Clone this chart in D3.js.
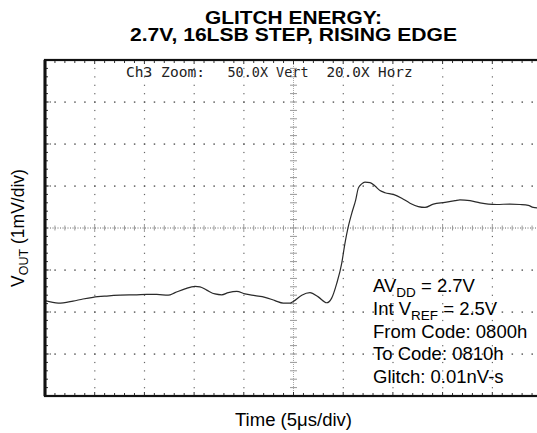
<!DOCTYPE html>
<html>
<head>
<meta charset="utf-8">
<script src="https://cdn.jsdelivr.net/npm/d3@7"></script>
<style>
  html, body { margin: 0; padding: 0; background: #fff; }
  svg { display: block; }
</style>
</head>
<body>
<svg id="chart" width="537" height="433"></svg>
<script>
// Scope capture: time in microseconds (5 µs/div), output in mV (1 mV/div, centred)
const timeUs = [
  0, 1.34, 2.82, 3.82, 4.83, 6.21, 7.55, 9.23, 10.23, 11.24, 12.40, 13.08, 14.08,
  15.09, 15.59, 16.27, 17.10, 17.78, 18.44, 19.29, 20.12, 21.13, 22.13, 23.14,
  23.97, 24.65, 24.98, 25.83, 26.66, 27.49, 28.34, 28.84, 29.35, 29.85, 30.18,
  30.51, 30.86, 31.26, 31.52, 31.86, 32.19, 32.70, 33.20, 33.70, 34.21, 35.04,
  35.89, 36.72, 37.56, 38.23, 39.07, 40.24, 41.25, 41.75, 42.76, 43.76, 44.60,
  45.44, 46.78, 47.79, 48.62, 49.12, 49.60
];
const voutMv = [
  -1.73, -1.79, -1.74, -1.69, -1.65, -1.62, -1.60, -1.59, -1.58, -1.58, -1.60, -1.54, -1.45,
  -1.39, -1.40, -1.48, -1.57, -1.59, -1.54, -1.51, -1.57, -1.61, -1.65, -1.73,
  -1.79, -1.79, -1.75, -1.60, -1.54, -1.64, -1.78, -1.67, -1.32, -0.84, -0.36,
  0.03, 0.35, 0.67, 0.95, 1.05, 1.09, 1.08, 1.00, 0.89, 0.84, 0.80,
  0.71, 0.59, 0.51, 0.49, 0.57, 0.61, 0.65, 0.67, 0.65, 0.60, 0.57,
  0.56, 0.57, 0.56, 0.54, 0.49, 0.48
];

const titleLines = ["GLITCH ENERGY:", "2.7V, 16LSB STEP, RISING EDGE"];
const scopeHeader = ["Ch3 Zoom:", "50.0X Vert", "20.0X Horz"];
const xLabel = "Time (5\u03bcs/div)";

// Divisions of the graticule
const timeDivs = d3.range(0, 51, 5);
const voltDivs = d3.range(-4, 5, 1);

const svg = d3.select("#chart");
svg.append("rect").attr("width", 537).attr("height", 433).attr("fill", "#fff");

const plotLeft = 45, plotTop = 60, divW = 49.7, divH = 42;
const x = d3.scaleLinear().domain([0, 50]).range([plotLeft, plotLeft + 10 * divW]);
const y = d3.scaleLinear().domain([-4, 4]).range([plotTop + 8 * divH, plotTop]);
const [x0, x1] = x.range();
const [y1, y0] = y.range();

const sans = "'Liberation Sans', Arial, Helvetica, sans-serif";

// Title (wide bold lettering)
const titleW = [177, 327];
svg.append("g").selectAll("text").data(titleLines).join("text")
  .attr("x", (d, i) => x(25) - titleW[i] / 2).attr("y", (d, i) => 24 + i * 16.5)
  .attr("textLength", (d, i) => titleW[i]).attr("lengthAdjust", "spacingAndGlyphs")
  .attr("font-family", sans).attr("font-weight", "bold").attr("font-size", 17.5)
  .attr("fill", "#000")
  .text(d => d);

const grid = svg.append("g");

// Dotted graticule lines (skip the centre lines and the frame)
const minorT = d3.range(0, 50.001, 1);
const minorV = d3.range(-4, 4.001, 0.2);
timeDivs.filter(t => t !== 0 && t !== 25 && t !== 50).forEach(t => {
  grid.append("g").selectAll("rect").data(minorV.filter(v => v > -3.99 && v < 3.99)).join("rect")
    .attr("x", x(t) - 0.5).attr("y", v => y(v) - 0.5).attr("width", 1.2).attr("height", 1.2)
    .attr("fill", "#666");
});
voltDivs.filter(v => v !== 0 && v !== -4 && v !== 4).forEach(v => {
  grid.append("g").selectAll("rect").data(minorT.filter(t => t > 0)).join("rect")
    .attr("x", t => x(t) - 0.6).attr("y", y(v) - 0.6).attr("width", 1.5).attr("height", 1.4)
    .attr("fill", "#555");
  // short stub next to the left frame
  grid.append("line")
    .attr("x1", x0).attr("x2", x0 + 6).attr("y1", y(v)).attr("y2", y(v))
    .attr("stroke", "#444").attr("stroke-width", 1.2).attr("stroke-dasharray", "1.5,0.8");
});

// Centre horizontal axis with minor ticks
grid.append("line")
  .attr("x1", x0).attr("x2", x1).attr("y1", y(0)).attr("y2", y(0))
  .attr("stroke", "#666").attr("stroke-width", 1).attr("stroke-dasharray", "1,1.5");
grid.append("g").selectAll("line").data(minorT).join("line")
  .attr("x1", t => x(t)).attr("x2", t => x(t))
  .attr("y1", t => y(0) - (t % 5 === 0 ? 4 : 2.5))
  .attr("y2", t => y(0) + (t % 5 === 0 ? 4 : 2.5))
  .attr("stroke", "#999").attr("stroke-width", 1);

// Centre vertical axis with minor ticks
grid.append("line")
  .attr("x1", x(25)).attr("x2", x(25)).attr("y1", y0).attr("y2", y1)
  .attr("stroke", "#aaa").attr("stroke-width", 1).attr("stroke-dasharray", "1,1");
grid.append("g").selectAll("line").data(minorV).join("line")
  .attr("x1", x(25) - 3.5).attr("x2", x(25) + 3.5)
  .attr("y1", v => y(v)).attr("y2", v => y(v))
  .attr("stroke", "#999").attr("stroke-width", 1);

// Frame ticks (inside the border)
grid.append("g").selectAll("line").data(minorT).join("line")
  .attr("x1", t => x(t)).attr("x2", t => x(t))
  .attr("y1", y0).attr("y2", t => y0 + (t % 5 === 0 ? 4 : 3))
  .attr("stroke", "#333").attr("stroke-width", 1);
grid.append("g").selectAll("line").data(minorT).join("line")
  .attr("x1", t => x(t)).attr("x2", t => x(t))
  .attr("y1", y1).attr("y2", t => y1 - (t % 5 === 0 ? 4 : 3))
  .attr("stroke", "#333").attr("stroke-width", 1);
grid.append("g").selectAll("line").data(minorV).join("line")
  .attr("x1", x0).attr("x2", x0 + 3)
  .attr("y1", v => y(v)).attr("y2", v => y(v))
  .attr("stroke", "#333").attr("stroke-width", 1);

// Scope header text
const headerX = [126, 227.5, 326.5];
const headerW = [79, 81, 86];
svg.append("g").selectAll("text").data(scopeHeader).join("text")
  .attr("x", (d, i) => headerX[i]).attr("y", 77)
  .attr("textLength", (d, i) => headerW[i]).attr("lengthAdjust", "spacingAndGlyphs")
  .attr("font-family", "'DejaVu Sans Mono', monospace").attr("font-size", 13.5)
  .attr("fill", "#222")
  .text(d => d);

// Waveform
svg.append("clipPath").attr("id", "plotClip")
  .append("rect").attr("x", x0).attr("y", y0).attr("width", x1 - x0).attr("height", y1 - y0);
const line = d3.line()
  .x((d, i) => x(timeUs[i]))
  .y(d => y(d))
  .curve(d3.curveMonotoneX);
svg.append("path")
  .datum(voutMv)
  .attr("clip-path", "url(#plotClip)")
  .attr("d", line)
  .attr("fill", "none").attr("stroke", "#2a2a2a").attr("stroke-width", 1.2);

// Frame
svg.append("rect")
  .attr("x", x0).attr("y", y0).attr("width", x1 - x0).attr("height", y1 - y0)
  .attr("fill", "none").attr("stroke", "#111").attr("stroke-width", 2.2);
svg.append("line")
  .attr("x1", x0).attr("x2", x0).attr("y1", y0).attr("y2", y1)
  .attr("stroke", "#111").attr("stroke-width", 3);

// Annotation block
const note = svg.append("text")
  .attr("font-family", sans).attr("font-size", 18.5).attr("fill", "#000");
const noteX = 373;
note.append("tspan").attr("x", noteX).attr("y", 292).text("AV");
note.append("tspan").attr("font-size", 13.5).attr("dy", 5).text("DD");
note.append("tspan").attr("dy", -5).text(" = 2.7V");
note.append("tspan").attr("x", noteX).attr("y", 315).text("Int V");
note.append("tspan").attr("font-size", 13.5).attr("dy", 5).text("REF");
note.append("tspan").attr("dy", -5).text(" = 2.5V");
note.append("tspan").attr("x", noteX).attr("y", 337.5).text("From Code: 0800h");
note.append("tspan").attr("x", noteX).attr("y", 360).text("To Code: 0810h");
note.append("tspan").attr("x", noteX).attr("y", 382.5).text("Glitch: 0.01nV-s");

// Axis labels
svg.append("text")
  .attr("x", x(25) - 58.5).attr("y", 426)
  .attr("textLength", 117).attr("lengthAdjust", "spacingAndGlyphs")
  .attr("font-family", sans).attr("font-size", 17.5).attr("fill", "#000")
  .text(xLabel);

const yl = svg.append("text")
  .attr("transform", `translate(24, ${y(0)}) rotate(-90)`)
  .attr("text-anchor", "middle")
  .attr("font-family", sans).attr("font-size", 17.5).attr("fill", "#000");
yl.append("tspan").text("V");
yl.append("tspan").attr("font-size", 12.5).attr("dy", 4).text("OUT");
yl.append("tspan").attr("dy", -4).text(" (1mV/div)");
</script>
</body>
</html>
